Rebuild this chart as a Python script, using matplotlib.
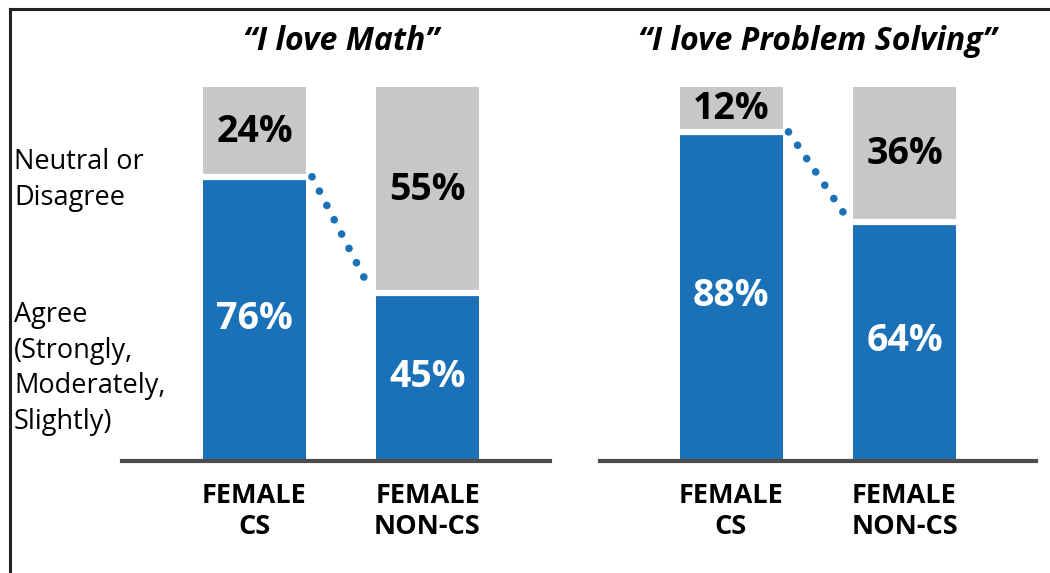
import matplotlib
matplotlib.use("Agg")
import matplotlib.pyplot as plt
from matplotlib.lines import Line2D

plt.rcParams['font.family'] = ['Open Sans', 'DejaVu Sans']

# ---- data ----
categories = ["FEMALE\nCS", "FEMALE\nNON-CS"]
panel_titles = ["\u201cI love Math\u201d", "\u201cI love Problem Solving\u201d"]
agree_math = [76, 45]
agree_problem = [88, 64]
row_labels = ["Neutral or\nDisagree", "Agree\n(Strongly,\nModerately,\nSlightly)"]

BLUE = "#1a71b7"
GRAY = "#c6c7c9"
AXIS = "#4d4d4d"

W, H = 1050, 573
fig = plt.figure(figsize=(W / 100, H / 100), dpi=100)

def fx(px):
    return px / W

def fy(py):
    return 1 - py / H

base_px, top_px = 461, 87
panels = [
    dict(x0=122, x1=550, centers=(254.5, 427.5), data=agree_math, title=panel_titles[0]),
    dict(x0=600, x1=1036, centers=(731, 904.5), data=agree_problem, title=panel_titles[1]),
]
bar_w_px = 103

for p in panels:
    ax = fig.add_axes([fx(p["x0"]), fy(base_px), fx(p["x1"] - p["x0"]), (base_px - top_px) / H])
    c0, c1 = p["centers"]
    unit = c1 - c0
    left = -(c0 - p["x0"]) / unit
    right = left + (p["x1"] - p["x0"]) / unit
    ax.set_xlim(left, right)
    ax.set_ylim(0, 100)
    ax.axis("off")
    w = bar_w_px / unit
    xs = [0, 1]
    vals = p["data"]
    rest = [100 - v for v in vals]
    ax.bar(xs, vals, width=w, color=BLUE, linewidth=0, zorder=2)
    ax.bar(xs, rest, bottom=vals, width=w, color=GRAY, linewidth=0, zorder=2)
    for x, v in zip(xs, vals):
        ax.hlines(v, x - w / 2 - 0.01, x + w / 2 + 0.01, color="white", lw=4.5, zorder=3)
        ax.text(x, v / 2, f"{v}%", ha="center", va="center", color="white",
                fontsize=27, fontweight="bold", zorder=4)
        ax.text(x, v + (100 - v) / 2, f"{100 - v}%", ha="center", va="center",
                color="black", fontsize=27, fontweight="bold", zorder=4)
    # dotted connector
    off = 6 / unit
    ax.add_line(Line2D([w / 2 + off, 1 - w / 2 - off], [vals[0], vals[1] + 1],
                       color=BLUE, lw=5.5, linestyle=(0, (0.01, 2.1)),
                       dash_capstyle="round", solid_capstyle="round",
                       zorder=3, clip_on=False))
    # baseline
    ax.axhline(0, color=AXIS, lw=3.0, zorder=5, clip_on=False)
    # category labels
    for x, c in zip(xs, categories):
        ax.text(x, -13.5, c, ha="center", va="center", fontsize=19.5, fontweight="bold",
                linespacing=1.27, transform=ax.transData, clip_on=False)
    # title
    fig.text(fx((c0 + c1) / 2), fy(42), p["title"], ha="center", va="center",
             fontsize=23, fontweight="bold", fontstyle="italic")

# row labels
fig.text(fx(14), fy(180), row_labels[0], ha="left", va="center", fontsize=19.5, linespacing=1.38)
fig.text(fx(14), fy(368.5), row_labels[1], ha="left", va="center", fontsize=19.5, linespacing=1.38)

# frame lines (top & left)
fig.add_artist(Line2D([fx(10), 1], [fy(9), fy(9)], color="#222222", lw=2.2, transform=fig.transFigure))
fig.add_artist(Line2D([fx(10), fx(10)], [fy(9), 0], color="#222222", lw=2.2, transform=fig.transFigure))

fig.savefig("out.png", dpi=100)
